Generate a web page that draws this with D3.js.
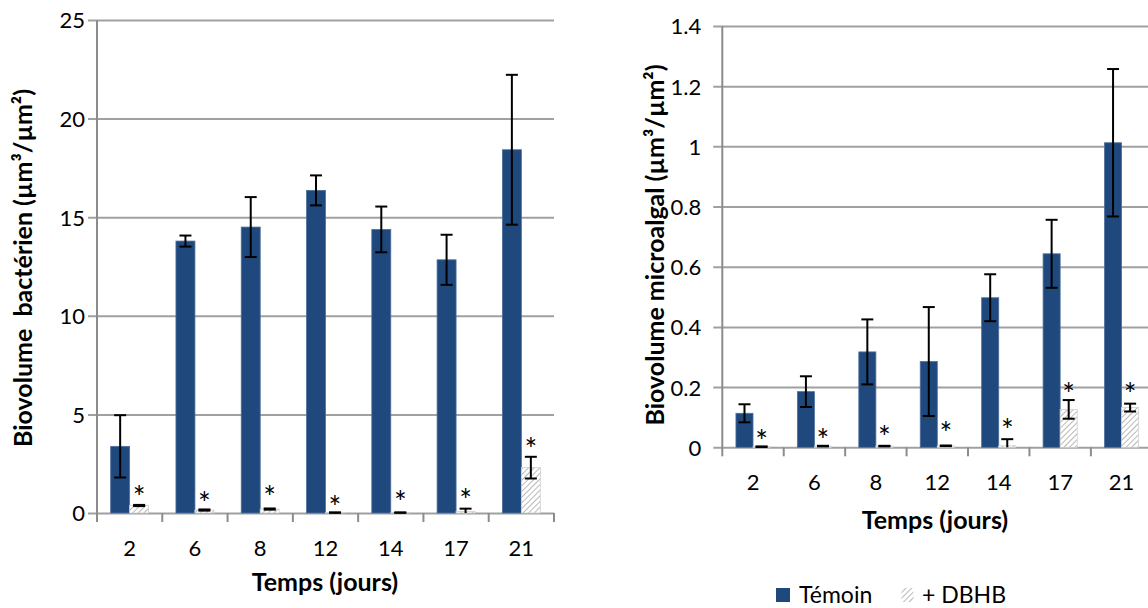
<!DOCTYPE html>
<html>
<head>
<meta charset="utf-8">
<script src="https://cdn.jsdelivr.net/npm/d3@7/dist/d3.min.js"></script>
<style>
  html, body { margin: 0; padding: 0; background: #fff; }
  svg { display: block; }
  text { font-family: Lato, "Open Sans", sans-serif; fill: #000; }
</style>
</head>
<body>
<svg id="chart" width="1148" height="608"></svg>
<script>
// ---------- DATA ----------
const categories = ["2", "6", "8", "12", "14", "17", "21"];

const bactTicks = [0, 5, 10, 15, 20, 25];
const bactTemoin = [3.38, 13.79, 14.5, 16.36, 14.38, 12.84, 18.42];
const bactTemoinErr = [1.58, 0.28, 1.52, 0.76, 1.16, 1.27, 3.8];
const bactDBHB = [0.38, 0.15, 0.2, 0.02, 0.02, 0.08, 2.3];
const bactDBHBErr = [0.03, 0.03, 0.03, 0.01, 0.01, 0.14, 0.55];
const bactStars = [1.12, 0.8, 1.12, 0.62, 0.88, 0.96, 3.55];

const algTicks = [0, 0.2, 0.4, 0.6, 0.8, 1, 1.2, 1.4];
const algTemoin = [0.113, 0.185, 0.317, 0.285, 0.497, 0.643, 1.012];
const algTemoinErr = [0.03, 0.051, 0.108, 0.181, 0.078, 0.113, 0.245];
const algDBHB = [0.002, 0.004, 0.004, 0.005, 0.005, 0.126, 0.132];
const algDBHBErr = [0.001, 0.001, 0.001, 0.001, 0.022, 0.031, 0.013];
const algStars = [0.041, 0.044, 0.055, 0.069, 0.076, 0.197, 0.197];

const seriesNames = ["Témoin", "+ DBHB"];
const xTitle = "Temps (jours)";
const bactYTitle = "Biovolume  bactérien (µm³/µm²)";
const algYTitle = "Biovolume microalgal (µm³/µm²)";

// ---------- STYLE ----------
const BLUE = "#1F497D";
const GRID = "#a0a0a0";

const svg = d3.select("#chart");
const defs = svg.append("defs");
const pat = defs.append("pattern")
  .attr("id", "hatch")
  .attr("patternUnits", "userSpaceOnUse")
  .attr("width", 4).attr("height", 4)
  .attr("patternTransform", "rotate(45)");
pat.append("rect").attr("width", 4).attr("height", 4).attr("fill", "#fff");
pat.append("line").attr("x1", 0).attr("y1", 0).attr("x2", 0).attr("y2", 4)
  .attr("stroke", "#8a8a8a").attr("stroke-width", 1.2);

function drawPanel(cfg) {
  const g = svg.append("g");
  const x = d3.scaleBand().domain(categories).range([cfg.x0, cfg.x1]).padding(0);
  const y = d3.scaleLinear().domain([0, cfg.yMax]).range([cfg.yBottom, cfg.yTop]);
  const sub = d3.scaleBand().domain(["t", "d"]).range([0, x.bandwidth()])
    .paddingInner(0).paddingOuter(cfg.outerPad);

  // gridlines + y labels
  const yAxis = d3.axisLeft(y).tickValues(cfg.ticks)
    .tickSize(-(cfg.gridRight - (cfg.x0 - 9)))
    .tickPadding(cfg.labelPad)
    .tickFormat(d => String(d));
  const ga = g.append("g").attr("transform", `translate(${cfg.x0 - 9},0)`).call(yAxis);
  ga.select(".domain").remove();
  ga.selectAll(".tick line").attr("stroke", GRID).attr("stroke-width", 2);
  ga.selectAll(".tick text").attr("font-size", 22).attr("font-family", "Lato")
    .attr("fill", "#000").attr("dy", "0.36em");

  // vertical axis line
  g.append("line").attr("x1", cfg.x0).attr("x2", cfg.x0)
    .attr("y1", y(cfg.yMax)).attr("y2", y(0))
    .attr("stroke", "#8c8c8c").attr("stroke-width", 2);

  // category boundary ticks
  const bounds = categories.map(c => x(c)).concat([x(categories[categories.length - 1]) + x.step()]);
  g.selectAll(".bt").data(bounds).enter().append("line")
    .attr("x1", d => d).attr("x2", d => d)
    .attr("y1", y(0)).attr("y2", y(0) + 9)
    .attr("stroke", "#8c8c8c").attr("stroke-width", 2);

  // x labels via axis
  const xAxis = d3.axisBottom(x).tickSize(0).tickPadding(0);
  const gx = g.append("g").attr("transform", `translate(0,${y(0)})`).call(xAxis);
  gx.select(".domain").remove();
  gx.selectAll(".tick text").attr("font-size", 22).attr("font-family", "Lato")
    .attr("fill", "#000").attr("dy", 0).attr("y", 43);

  // bars
  const tData = categories.map((c, i) => ({ c, v: cfg.temoin[i], e: cfg.temoinErr[i] }));
  const dData = categories.map((c, i) => ({ c, v: cfg.dbhb[i], e: cfg.dbhbErr[i], s: cfg.stars[i] }));

  g.selectAll(".bt2").data(tData).enter().append("rect")
    .attr("x", d => x(d.c) + sub("t"))
    .attr("width", sub.bandwidth())
    .attr("y", d => y(d.v)).attr("height", d => y(0) - y(d.v))
    .attr("fill", BLUE).attr("stroke", "#4d6f9b").attr("stroke-width", 0.8);

  g.selectAll(".bd").data(dData).enter().append("rect")
    .attr("x", d => x(d.c) + sub("d"))
    .attr("width", sub.bandwidth())
    .attr("y", d => y(d.v)).attr("height", d => y(0) - y(d.v))
    .attr("fill", "url(#hatch)").attr("stroke", "#d0d0d0").attr("stroke-width", 0.8);

  // error bars
  function errBars(data, key) {
    const cx = d => x(d.c) + sub(key) + sub.bandwidth() / 2;
    const eg = g.append("g").attr("stroke", "#000").attr("stroke-width", 2);
    eg.selectAll("line.v").data(data).enter().append("line")
      .attr("x1", cx).attr("x2", cx)
      .attr("y1", d => y(d.v + d.e)).attr("y2", d => Math.min(y(0), y(d.v - d.e)));
    eg.selectAll("line.t").data(data).enter().append("line")
      .attr("x1", d => cx(d) - 6).attr("x2", d => cx(d) + 6)
      .attr("y1", d => y(d.v + d.e)).attr("y2", d => y(d.v + d.e));
    eg.selectAll("line.b").data(data.filter(d => d.v - d.e >= 0)).enter().append("line")
      .attr("x1", d => cx(d) - 6).attr("x2", d => cx(d) + 6)
      .attr("y1", d => y(d.v - d.e)).attr("y2", d => y(d.v - d.e));
  }
  errBars(tData, "t");
  errBars(dData, "d");

  // stars
  g.selectAll(".st").data(dData).enter().append("text")
    .attr("x", d => x(d.c) + sub("d") + sub.bandwidth() / 2)
    .attr("y", d => y(d.s) + 17)
    .attr("text-anchor", "middle")
    .attr("font-size", 30).attr("font-family", "DejaVu Sans")
    .text("*");

  // titles
  g.append("text").attr("x", cfg.xTitleX).attr("y", cfg.xTitleY)
    .attr("text-anchor", "middle").attr("font-size", 25).attr("font-weight", "bold")
    .text(xTitle);
  g.append("text")
    .attr("transform", `translate(${cfg.yTitleX},${cfg.yTitleY}) rotate(-90)`)
    .attr("text-anchor", "middle").attr("font-size", 25).attr("font-weight", "bold")
    .attr("dy", "0.35em")
    .style("white-space", "pre")
    .text(cfg.yTitle);
}

drawPanel({
  x0: 97, x1: 554, gridRight: 554, yTop: 20, yBottom: 513, yMax: 25,
  ticks: bactTicks, outerPad: 0.72, labelPad: 3,
  temoin: bactTemoin, temoinErr: bactTemoinErr, dbhb: bactDBHB, dbhbErr: bactDBHBErr, stars: bactStars,
  xTitleX: 325, xTitleY: 591, yTitleX: 23, yTitleY: 268, yTitle: bactYTitle
});

drawPanel({
  x0: 722.3, x1: 1152.3, gridRight: 1152, yTop: 26, yBottom: 447.3, yMax: 1.4,
  ticks: algTicks, outerPad: 0.8, labelPad: 12,
  temoin: algTemoin, temoinErr: algTemoinErr, dbhb: algDBHB, dbhbErr: algDBHBErr, stars: algStars,
  xTitleX: 935, xTitleY: 529, yTitleX: 655, yTitleY: 245, yTitle: algYTitle
});

// legend
const leg = svg.append("g");
const legFills = [BLUE, "url(#hatch)"];
const legX = [776, 901.5];
const legTextX = [799, 922];
const legW = [14, 12];
seriesNames.forEach((name, i) => {
  leg.append("rect").attr("x", legX[i]).attr("y", 588).attr("width", legW[i]).attr("height", 14)
    .attr("fill", legFills[i]);
  leg.append("text").attr("x", legTextX[i]).attr("y", 603).attr("font-size", 23).text(name);
});
</script>
</body>
</html>
